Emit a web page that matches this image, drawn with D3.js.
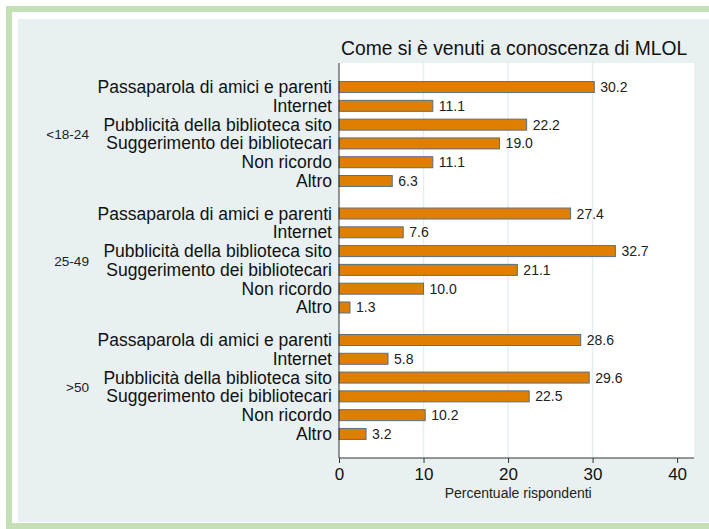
<!DOCTYPE html>
<html lang="it">
<head>
<meta charset="utf-8">
<title>Come si è venuti a conoscenza di MLOL</title>
<script src="https://cdn.jsdelivr.net/npm/d3@7/dist/d3.min.js"></script>
<style>
body { margin: 0; background: #ffffff; }
svg { display: block; font-family: "Liberation Sans", Arial, sans-serif; }
</style>
</head>
<body>
<script>
// data
let groups = ["<18-24", "25-49", ">50"];
let categories = ["Passaparola di amici e parenti", "Internet", "Pubblicità della biblioteca sito",
                  "Suggerimento dei bibliotecari", "Non ricordo", "Altro"];
let values18_24 = [30.2, 11.1, 22.2, 19.0, 11.1, 6.3];
let values25_49 = [27.4, 7.6, 32.7, 21.1, 10.0, 1.3];
let values50 = [28.6, 5.8, 29.6, 22.5, 10.2, 3.2];
let xTicks = [0, 10, 20, 30, 40];

let w = 709, h = 529;
let groupGap = 0.73; // extra slots between groups

// rows for every bar
let rows = [];
[values18_24, values25_49, values50].forEach(function(vals, g) {
    vals.forEach(function(v, i) {
        rows.push({group: g, cat: categories[i], value: v, slot: g * (categories.length + groupGap) + i});
    });
});
let lastSlot = d3.max(rows, d => d.slot);

let plot = {left: 339, right: 694, top: 63, bottom: 458};

let x = d3.scaleLinear().domain([0, 42]).range([plot.left, plot.right]);
let y = d3.scaleLinear().domain([-1.28, lastSlot + 1.28]).range([plot.top, plot.bottom]);

let svg = d3.select("body").append("svg").attr("width", w).attr("height", h);

// frame
svg.append("rect").attr("x", 0).attr("y", 0).attr("width", w).attr("height", h).attr("fill", "#ffffff");
svg.append("rect").attr("x", 9).attr("y", 9).attr("width", w + 20).attr("height", h - 12)
    .attr("fill", "none").attr("stroke", "#c5e0b4").attr("stroke-width", 6);
svg.append("rect").attr("x", 18).attr("y", 19).attr("width", w - 18).attr("height", 503).attr("fill", "#e8f0f2");

// plot region
svg.append("rect").attr("x", plot.left).attr("y", plot.top)
    .attr("width", plot.right - plot.left).attr("height", plot.bottom - plot.top).attr("fill", "#ffffff");

// grid
svg.selectAll("line.grid").data(xTicks.filter(t => t > 0 && t < 40)).enter()
    .append("line").attr("class", "grid")
    .attr("x1", d => x(d)).attr("x2", d => x(d))
    .attr("y1", plot.top).attr("y2", plot.bottom)
    .attr("stroke", "#e6eef2").attr("stroke-width", 1.5);

// title
svg.append("text").attr("x", 341).attr("y", 55).attr("font-size", 19.3).attr("fill", "#111")
    .text("Come si è venuti a conoscenza di MLOL");

// bars
let barH = 11;
svg.selectAll("rect.bar").data(rows).enter()
    .append("rect").attr("class", "bar")
    .attr("x", x(0)).attr("y", d => y(d.slot) - barH / 2)
    .attr("width", d => x(d.value) - x(0)).attr("height", barH)
    .attr("fill", "#e07e00").attr("stroke", "#5b6f80").attr("stroke-width", 1);

// value labels
svg.selectAll("text.val").data(rows).enter()
    .append("text").attr("class", "val")
    .attr("x", d => x(d.value) + 6).attr("y", d => y(d.slot) + 5)
    .attr("font-size", 14).attr("fill", "#222")
    .text(d => d.value.toFixed(1));

// category labels
svg.selectAll("text.cat").data(rows).enter()
    .append("text").attr("class", "cat")
    .attr("x", 332).attr("y", d => y(d.slot) + 6)
    .attr("text-anchor", "end").attr("font-size", 17.5).attr("fill", "#111")
    .text(d => d.cat);

// group labels
svg.selectAll("text.grp").data(groups).enter()
    .append("text").attr("class", "grp")
    .attr("x", 89)
    .attr("y", (d, g) => y(g * (categories.length + groupGap) + (categories.length - 1) / 2) + 5)
    .attr("text-anchor", "end").attr("font-size", 13.6).attr("fill", "#222")
    .text(d => d);

// x axis
let xAxis = d3.axisBottom(x).tickValues(xTicks).tickSize(5).tickPadding(5).tickFormat(d3.format("d"));
let gx = svg.append("g").attr("transform", "translate(0," + plot.bottom + ")").call(xAxis);
gx.select(".domain").attr("d", "M" + plot.left + ",0H" + plot.right).attr("stroke", "#333");
gx.selectAll(".tick line").attr("stroke", "#333");
gx.selectAll(".tick text").attr("font-size", 17).attr("fill", "#111")
    .attr("font-family", "'Liberation Sans', Arial, sans-serif");

// y axis line
svg.append("line").attr("x1", plot.left).attr("x2", plot.left)
    .attr("y1", plot.top).attr("y2", plot.bottom).attr("stroke", "#333");

// axis title
svg.append("text").attr("x", x(21.2)).attr("y", 498).attr("text-anchor", "middle")
    .attr("font-size", 14).attr("fill", "#222").text("Percentuale rispondenti");
</script>
</body>
</html>
